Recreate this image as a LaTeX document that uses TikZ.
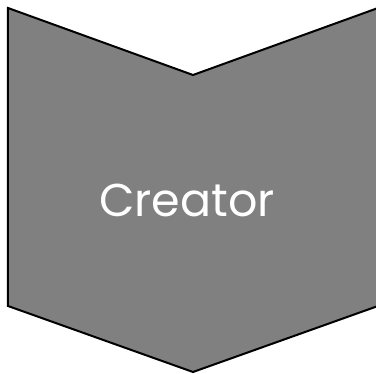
\documentclass[tikz,border=0pt]{standalone}
\usepackage{fontspec}
\setmainfont{Poppins}
\tikzset{chev/.style={fill=black!50, draw=black, line width=2pt, line join=miter},
  lbl/.style={text=white, font=\fontsize{46}{46}\selectfont, inner sep=0pt}}
\begin{document}
\begin{tikzpicture}[x=1pt,y=-1pt]
\useasboundingbox (0,0) rectangle (376,374);
\begin{scope}
\clip (0,0) rectangle (376,374);
\draw[chev] (8,8) -- (193,75) -- (378,8) -- (378,306) -- (193,372) -- (8,306) -- cycle;
\end{scope}
\node[lbl, anchor=base] (t) at (187,217) {Creator};
\end{tikzpicture}
\end{document}
